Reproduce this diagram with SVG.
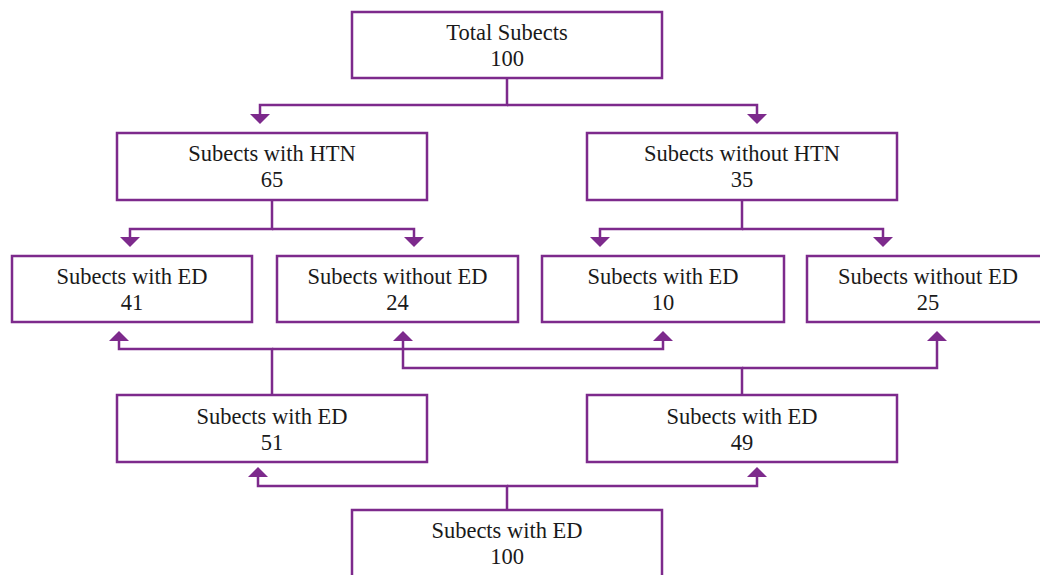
<svg xmlns="http://www.w3.org/2000/svg" width="1040" height="575" viewBox="0 0 1040 575">
<defs>
<style>
.box{fill:#ffffff;stroke:#7d2a8c;stroke-width:2.5}
.lbl{font-family:"Liberation Serif","Times New Roman",serif;font-size:22.5px;fill:#1a1a1a;text-anchor:middle}
.con{fill:none;stroke:#7d2a8c;stroke-width:2.5;marker-end:url(#arr)}
.stem{fill:none;stroke:#7d2a8c;stroke-width:2.5}
</style>
<marker id="arr" viewBox="0 0 10 20" refX="0" refY="10" markerWidth="10" markerHeight="20" markerUnits="userSpaceOnUse" orient="auto" preserveAspectRatio="none">
<path d="M0,0 L10,10 L0,20 z" fill="#7d2a8c"/>
</marker>
</defs>
<rect width="1040" height="575" fill="#ffffff"/>
<g id="connectors">
<path class="con" d="M507,78 V105 H260 V114"/>
<path class="con" d="M507,105 H757 V114"/>
<path class="con" d="M272,200 V229 H130 V237"/>
<path class="con" d="M272,229 H414 V237"/>
<path class="con" d="M742,200 V229 H600 V237"/>
<path class="con" d="M742,229 H883 V237"/>
<path class="con" d="M272,395 V349 H119 V341"/>
<path class="con" d="M272,349 H663 V341"/>
<path class="con" d="M742,395 V368 H403 V341"/>
<path class="con" d="M742,368 H937 V341"/>
<path class="con" d="M507,510 V486 H258 V477"/>
<path class="con" d="M507,486 H757 V477"/>
</g>
<g id="n1"><rect class="box" x="352" y="12" width="310" height="66"/><text class="lbl" x="507" y="40">Total Subects</text><text class="lbl" x="507" y="66">100</text></g>
<g id="n2"><rect class="box" x="117" y="133" width="310" height="67"/><text class="lbl" x="272" y="161">Subects with HTN</text><text class="lbl" x="272" y="187">65</text></g>
<g id="n3"><rect class="box" x="587" y="133" width="310" height="67"/><text class="lbl" x="742" y="161">Subects without HTN</text><text class="lbl" x="742" y="187">35</text></g>
<g id="n4"><rect class="box" x="12" y="256" width="240" height="66"/><text class="lbl" x="132" y="284">Subects with ED</text><text class="lbl" x="132" y="310">41</text></g>
<g id="n5"><rect class="box" x="277" y="256" width="241" height="66"/><text class="lbl" x="397.5" y="284">Subects without ED</text><text class="lbl" x="397.5" y="310">24</text></g>
<g id="n6"><rect class="box" x="542" y="256" width="242" height="66"/><text class="lbl" x="663" y="284">Subects with ED</text><text class="lbl" x="663" y="310">10</text></g>
<g id="n7"><rect class="box" x="807" y="256" width="242" height="66"/><text class="lbl" x="928" y="284">Subects without ED</text><text class="lbl" x="928" y="310">25</text></g>
<g id="n8"><rect class="box" x="117" y="395" width="310" height="67"/><text class="lbl" x="272" y="424">Subects with ED</text><text class="lbl" x="272" y="450">51</text></g>
<g id="n9"><rect class="box" x="587" y="395" width="310" height="67"/><text class="lbl" x="742" y="424">Subects with ED</text><text class="lbl" x="742" y="450">49</text></g>
<g id="n10"><rect class="box" x="352" y="510" width="310" height="75"/><text class="lbl" x="507" y="538">Subects with ED</text><text class="lbl" x="507" y="564">100</text></g>
</svg>
